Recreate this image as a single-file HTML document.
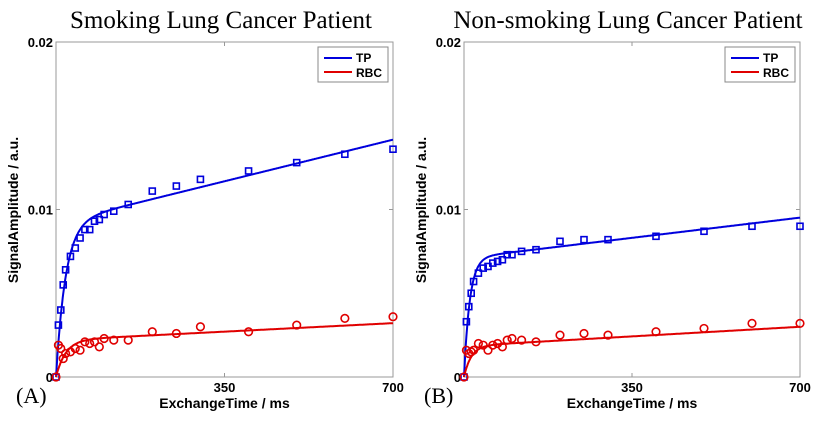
<!DOCTYPE html>
<html><head><meta charset="utf-8"><style>
html,body{margin:0;padding:0;background:#fff;}
svg{display:block;}
.tk{font:bold 13px "Liberation Sans",Arial,sans-serif;fill:#000;}
.ttl{font:25px "Liberation Serif","Times New Roman",serif;fill:#000;}
.ax{font:bold 14px "Liberation Sans",Arial,sans-serif;fill:#000;}
.pl{font:22px "Liberation Serif","Times New Roman",serif;fill:#000;}
.lg{font:bold 12px "Liberation Sans",Arial,sans-serif;fill:#000;}
</style></head><body>
<svg id="chart" width="821" height="421" viewBox="0 0 821 421" xmlns="http://www.w3.org/2000/svg"></svg>
<script>
const times = [0,5,10,15,20,30,40,50,60,70,80,90,100,120,150,200,250,300,400,500,600,700];
const tpA = [0,0.0031,0.0040,0.0055,0.0064,0.0072,0.0077,0.0083,0.0088,0.0088,0.0093,0.0094,0.0097,0.0099,0.0103,0.0111,0.0114,0.0118,0.0123,0.0128,0.0133,0.0136];
const rbcA = [0,0.0019,0.0017,0.0011,0.0014,0.0015,0.0017,0.0016,0.0021,0.0020,0.0021,0.0018,0.0023,0.0022,0.0022,0.0027,0.0026,0.0030,0.0027,0.0031,0.0035,0.0036];
const tpB = [0,0.0033,0.0042,0.0050,0.0057,0.0062,0.0065,0.0066,0.0068,0.0069,0.0070,0.0073,0.0073,0.0075,0.0076,0.0081,0.0082,0.0082,0.0084,0.0087,0.0090,0.0090];
const rbcB = [0,0.0016,0.0014,0.0015,0.0016,0.0020,0.0019,0.0016,0.0019,0.0020,0.0018,0.0022,0.0023,0.0022,0.0021,0.0025,0.0026,0.0025,0.0027,0.0029,0.0032,0.0032];
// fit model params: [amplitude, tau(ms), slope per ms]
const fitTpA = [0.0092,20,0.0000071];
const fitRbcA = [0.0022,20,0.00000145];
const fitTpB = [0.0071,12,0.00000345];
const fitRbcB = [0.00185,15,0.00000164];
const xTicks = [0,350,700];
const xTickLabels = ['','350','700'];
const yTicks = [0,0.01,0.02];
const yTickLabels = ['0','0.01','0.02'];

const NS='http://www.w3.org/2000/svg';
const svg=document.getElementById('chart');
function mk(tag,attrs,parent){const e=document.createElementNS(NS,tag);for(const k in attrs)e.setAttribute(k,attrs[k]);(parent||svg).appendChild(e);return e;}

function panel(id,x0,x1,title,titleX,label,tp,rbc,fTp,fRbc){
  const y0=377,y1=42;
  const xs=t=>x0+(t/700)*(x1-x0);
  const ys=v=>y0-(v/0.02)*(y0-y1);
  const g=mk('g',{});
  
  
  const fr=mk('rect',{x:x0,y:y1,width:x1-x0,height:y0-y1,fill:'#fff',stroke:'#999','stroke-width':1},g);
  
  
  xTicks.forEach((t,i)=>{
    mk('line',{x1:xs(t),x2:xs(t),y1:y0,y2:y0-4,stroke:'#999'},g);
    mk('line',{x1:xs(t),x2:xs(t),y1:y1,y2:y1+4,stroke:'#999'},g);
    const tx=mk('text',{x:xs(t),y:y0+15,'text-anchor':'middle',class:'tk'},g);
    tx.textContent=xTickLabels[i];
    
    
  });
  yTicks.forEach((v,i)=>{
    mk('line',{x1:x0,x2:x0+4,y1:ys(v),y2:ys(v),stroke:'#999'},g);
    mk('line',{x1:x1,x2:x1-4,y1:ys(v),y2:ys(v),stroke:'#999'},g);
    const tx=mk('text',{x:x0-3,y:ys(v)+5,'text-anchor':'end',class:'tk'},g);
    tx.textContent=yTickLabels[i];
    
    
  });
  function fitPath(p,color,name){
    let d='';
    for(let t=0;t<=700;t+=1){const v=p[0]*(1-Math.exp(-t/p[1]))+p[2]*t;d+=(t?'L':'M')+xs(t).toFixed(1)+' '+ys(v).toFixed(1);}
    const e=mk('path',{d:d,fill:'none',stroke:color,'stroke-width':2},g);
    
    
  }
  fitPath(fTp,'#0000dd','tp-fit-line');
  fitPath(fRbc,'#e00000','rbc-fit-line');
  times.forEach((t,i)=>{
    const s=mk('rect',{x:xs(t)-3,y:ys(tp[i])-3,width:6,height:6,fill:'none',stroke:'#0000dd','stroke-width':1.6},g);
    
    
  });
  times.forEach((t,i)=>{
    const c=mk('circle',{cx:xs(t),cy:ys(rbc[i]),r:3.8,fill:'none',stroke:'#e00000','stroke-width':1.6},g);
    
    
  });
  const lx=x1-75,ly=y1+5;
  const lg=mk('g',{},g);
  
  
  mk('rect',{x:lx,y:ly,width:70,height:35,fill:'#fff',stroke:'#888'},lg);
  mk('line',{x1:lx+6,x2:lx+34,y1:ly+11,y2:ly+11,stroke:'#0000dd','stroke-width':2},lg);
  mk('line',{x1:lx+6,x2:lx+34,y1:ly+25,y2:ly+25,stroke:'#e00000','stroke-width':2},lg);
  const t1=mk('text',{x:lx+38,y:ly+15,class:'lg'},lg);t1.textContent='TP';
  
  
  const t2=mk('text',{x:lx+38,y:ly+30,class:'lg'},lg);t2.textContent='RBC';
  
  
  const tt=mk('text',{x:titleX,y:28,'text-anchor':'middle',class:'ttl'},g);tt.textContent=title;
  
  
  const xt=mk('text',{x:(x0+x1)/2,y:408,'text-anchor':'middle',class:'ax'},g);xt.textContent='ExchangeTime / ms';
  
  
  const yt=mk('text',{x:0,y:0,'text-anchor':'middle',class:'ax',transform:'translate('+(x0-38)+',210) rotate(-90)'},g);yt.textContent='SignalAmplitude / a.u.';
  
  
  const pl=mk('text',{x:x0-40,y:403,class:'pl'},g);pl.textContent=label;
  
  
}
panel('smoking',56,393,'Smoking Lung Cancer Patient',221,'(A)',tpA,rbcA,fitTpA,fitRbcA);
panel('nonsmoking',464,800,'Non-smoking Lung Cancer Patient',628,'(B)',tpB,rbcB,fitTpB,fitRbcB);
</script>
</body></html>
